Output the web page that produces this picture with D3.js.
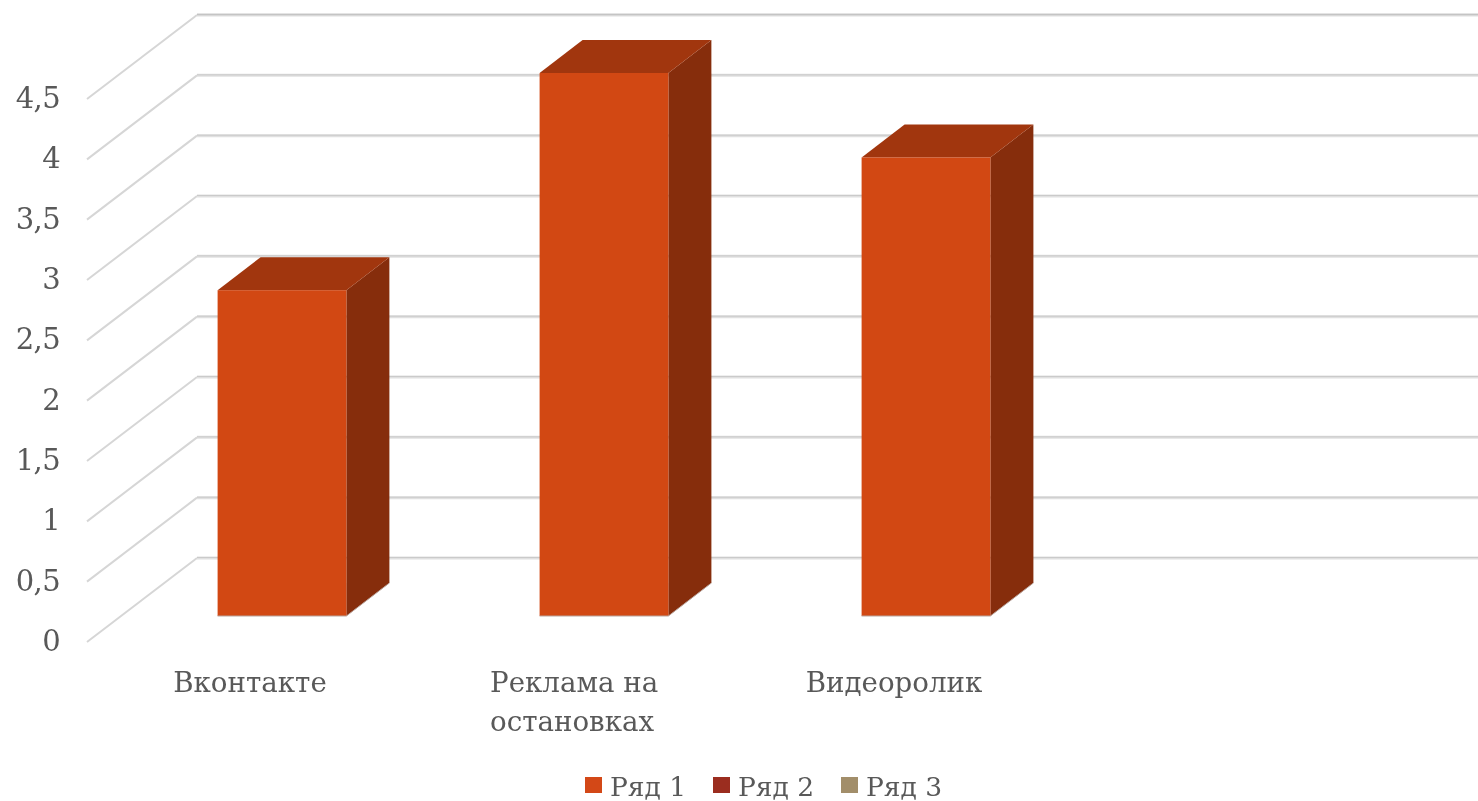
<!DOCTYPE html>
<html><head><meta charset="utf-8">
<script src="https://d3js.org/d3.v7.min.js"></script>
<style>html,body{margin:0;padding:0;background:#fff;overflow:hidden}svg{display:block;filter:blur(.45px)}text{font-family:"DejaVu Serif",serif;fill:#595959}</style>
</head><body><svg id="c" width="1478" height="801"></svg>
<script>
const categories = ["Вконтакте", "Реклама на|остановках", "Видеоролик", ""];
const seriesValues = [2.7, 4.5, 3.8, null];
const tickValues = [0, 0.5, 1, 1.5, 2, 2.5, 3, 3.5, 4, 4.5];
const tickLabels = ["0", "0,5", "1", "1,5", "2", "2,5", "3", "3,5", "4", "4,5"];
const legendNames = ["Ряд 1", "Ряд 2", "Ряд 3"];
const legendColors = ["#D34817", "#9B2D1F", "#A28E6A"];

const svg = d3.select("#c");
const y = d3.scaleLinear().domain([0, 4.5]).range([642, 99]);   // front edge of the floor
const x = d3.scaleBand().domain(d3.range(categories.length)).range([121, 1409]).paddingInner(.6).paddingOuter(.3);
const wall = {dx: 110, dy: -84};   // front of floor to back wall
const bar = {dx: 43, dy: -33, base: 616};  // bar depth
const pxPerUnit = y(0) - y(1);

// gridlines
const grid = svg.append("g").attr("fill", "none");
tickValues.forEach(t => {
  const y0 = y(t), yb = y0 + wall.dy, x0 = 87, xb = x0 + wall.dx;
  grid.append("path").attr("d", `M${x0},${y0}L${xb},${yb}`).attr("stroke", "#d6d6d6").attr("stroke-width", 2);
  grid.append("path").attr("d", `M${xb},${yb}H1478`).attr("stroke", "#e0e0e0").attr("stroke-width", 3);
  grid.append("path").attr("d", `M${xb},${yb - .5}H1478`).attr("stroke", "#c4c4c4").attr("stroke-width", t === 4.5 ? 1.5 : .8);
});

// tick labels
svg.append("g").attr("text-anchor", "end").selectAll("text").data(tickValues).join("text")
  .attr("x", 60).attr("y", d => y(d) + 9).attr("font-size", 29).attr("letter-spacing", -.6)
  .text((d, i) => tickLabels[i]);

// bars
const bars = svg.append("g").selectAll("g").data(seriesValues.map((v, i) => ({v, i})).filter(d => d.v != null)).join("g");
const poly = pts => pts.map(p => p.join(",")).join(" ");
bars.each(function(d) {
  const g = d3.select(this), l = x(d.i), r = l + x.bandwidth(), b = bar.base, t = b - d.v * pxPerUnit;
  g.append("polygon").attr("points", poly([[r, t], [r + bar.dx, t + bar.dy], [r + bar.dx, b + bar.dy], [r, b]])).attr("fill", "#862D0C");
  g.append("polygon").attr("points", poly([[l, t], [l + bar.dx, t + bar.dy], [r + bar.dx, t + bar.dy], [r, t]])).attr("fill", "#A1360E");
  g.append("rect").attr("x", l).attr("y", t).attr("width", r - l).attr("height", b - t).attr("fill", "#D24813");
  g.append("path").attr("d", `M${l},${b}H${r}L${r + bar.dx},${b + bar.dy}`).attr("fill", "none").attr("stroke", "#b9a49c").attr("stroke-width", 1);
});

// category labels
const labels = svg.append("g");
categories.forEach((c, i) => {
  if (!c) return;
  const parts = c.split("|");
  const cx = x(i) + x.bandwidth() / 2 - 32;
  const t = labels.append("text").attr("font-size", 27.7).attr("text-anchor", parts.length > 1 ? "start" : "middle");
  parts.forEach((p, k) => t.append("tspan").attr("x", parts.length > 1 ? cx - 82 : cx).attr("y", 692 + k * 39).text(p));
});

// legend
const legendX = d3.scalePoint().domain(legendNames).range([585, 841]);
const lg = svg.append("g").selectAll("g").data(legendNames).join("g").attr("transform", d => `translate(${legendX(d)},0)`);
lg.append("rect").attr("y", 777).attr("width", 17).attr("height", 16).attr("fill", (d, i) => legendColors[i]);
lg.append("text").attr("x", 25).attr("y", 796).attr("font-size", 26.5).text(d => d);
</script></body></html>
